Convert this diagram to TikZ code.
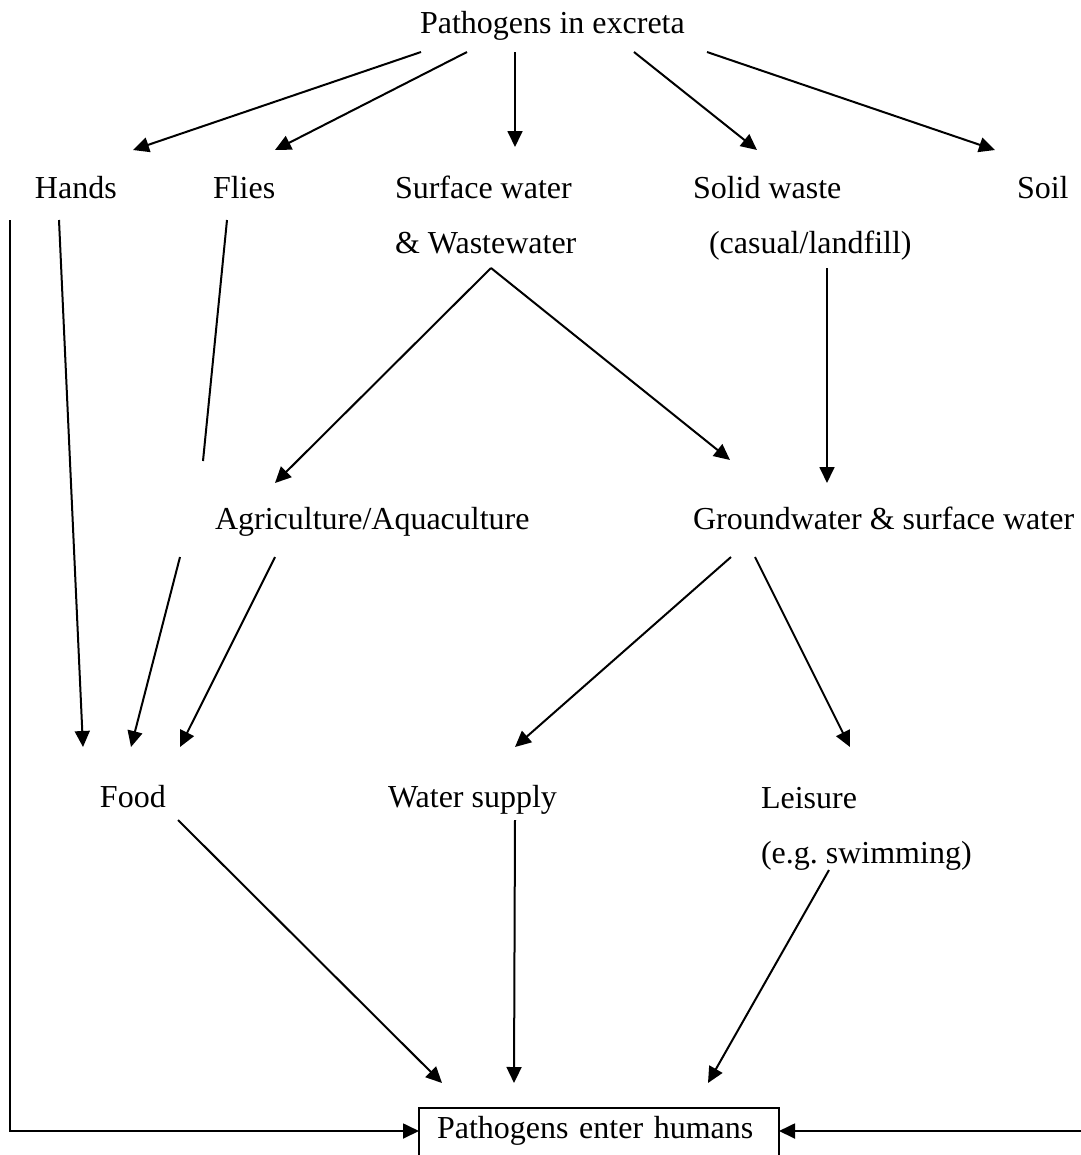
\documentclass[tikz,border=0pt]{standalone}
\usepackage{fontspec}
\setmainfont{Liberation Serif}
\frenchspacing
\usetikzlibrary{calc}
\usetikzlibrary{arrows.meta}

\tikzset{
  lbl/.style={inner sep=0pt,outer sep=0pt,anchor=base west,align=left,
    font=\fontsize{12}{20.6}\selectfont},
  arr/.style={line width=0.75pt,-{Triangle[length=6pt,width=5.6pt]}},
  ln/.style={line width=0.75pt}
}

\begin{document}
\begin{tikzpicture}[x=0.375pt,y=-0.375pt]
\useasboundingbox (0,0) rectangle (1080,1155);

\node[lbl] (excreta) at (420,33) {Pathogens in excreta};
\node[lbl] (hands) at (35,198) {Hands};
\node[lbl] (flies) at (213,198) {Flies};
\node[lbl] (surf) at (395,253) {Surface water\\\& Wastewater};
\node[lbl] (solid) at (693,253) {Solid waste\\\ \ (casual/landfill)};
\node[lbl] (soil) at (1017,198) {Soil};
\node[lbl] (agri) at (215,529) {Agriculture/Aquaculture};
\node[lbl] (ground) at (693,529) {Groundwater \& surface water};
\node[lbl] (food) at (100,807) {Food};
\node[lbl] (supply) at (388,807) {Water supply};
\node[lbl] (leisure) at (761,863) {Leisure\\(e.g. swimming)};
\node[draw,ln,anchor=north west,inner xsep=6.75pt,inner ysep=0pt,outer sep=0pt,
  text width=121.5pt,align=left,text height=11.25pt,text depth=9pt,
  font=\fontsize{12}{14}\selectfont] (enter) at (419,1108) {Pathogens enter humans};

\coordinate (ltop) at (10,220);
\coordinate (rend) at (1082,1131);

% excreta to the five first stops
\draw[arr] ($(excreta.base west)+(1,19)$) -- ($(hands.base west)+(98,-48)$);
\draw[arr] ($(excreta.base west)+(47,19)$) -- ($(flies.base west)+(62,-48)$);
\draw[arr] ($(excreta.base west)+(95,19)$) -- ($(surf.base west)+(120,-106)$);
\draw[arr] ($(excreta.base west)+(214,19)$) -- ($(solid.base west)+(64,-103)$);
\draw[arr] ($(excreta.base west)+(287,19)$) -- ($(soil.base west)+(-22,-48)$);

% middle rows
\draw[arr] ($(hands.base west)+(24,22)$) -- ($(food.base west)+(-17,-60)$);
\draw[ln] ($(flies.base west)+(14,22)$) -- ($(agri.base west)+(-12,-68)$);
\draw[arr] ($(surf.base west)+(96,15)$) -- ($(agri.base west)+(60,-46)$);
\draw[arr] ($(surf.base west)+(96,15)$) -- ($(ground.base west)+(37,-69)$);
\draw[arr] ($(solid.base west)+(134,15)$) -- ($(ground.base west)+(134,-46)$);
\draw[arr] ($(agri.base west)+(-35,28)$) -- ($(food.base west)+(31,-60)$);
\draw[arr] ($(agri.base west)+(60,28)$) -- ($(food.base west)+(80,-60)$);
\draw[arr] ($(ground.base west)+(38,28)$) -- ($(supply.base west)+(127,-60)$);
\draw[arr] ($(ground.base west)+(62,28)$) -- ($(leisure.base west)+(89,-116)$);

% into humans
\draw[arr] ($(food.base west)+(78,13)$) -- ($(enter.north west)+(23,-25)$);
\draw[arr] ($(supply.base west)+(127,13)$) -- ($(enter.north west)+(95,-25)$);
\draw[arr] ($(leisure.base west)+(68,7)$) -- ($(enter.north west)+(289,-25)$);
\draw[arr] (ltop) |- ($(enter.north west)+(0,23)$);
\draw[arr] (rend) -- ($(enter.north east)+(0,23)$);

\end{tikzpicture}
\end{document}
